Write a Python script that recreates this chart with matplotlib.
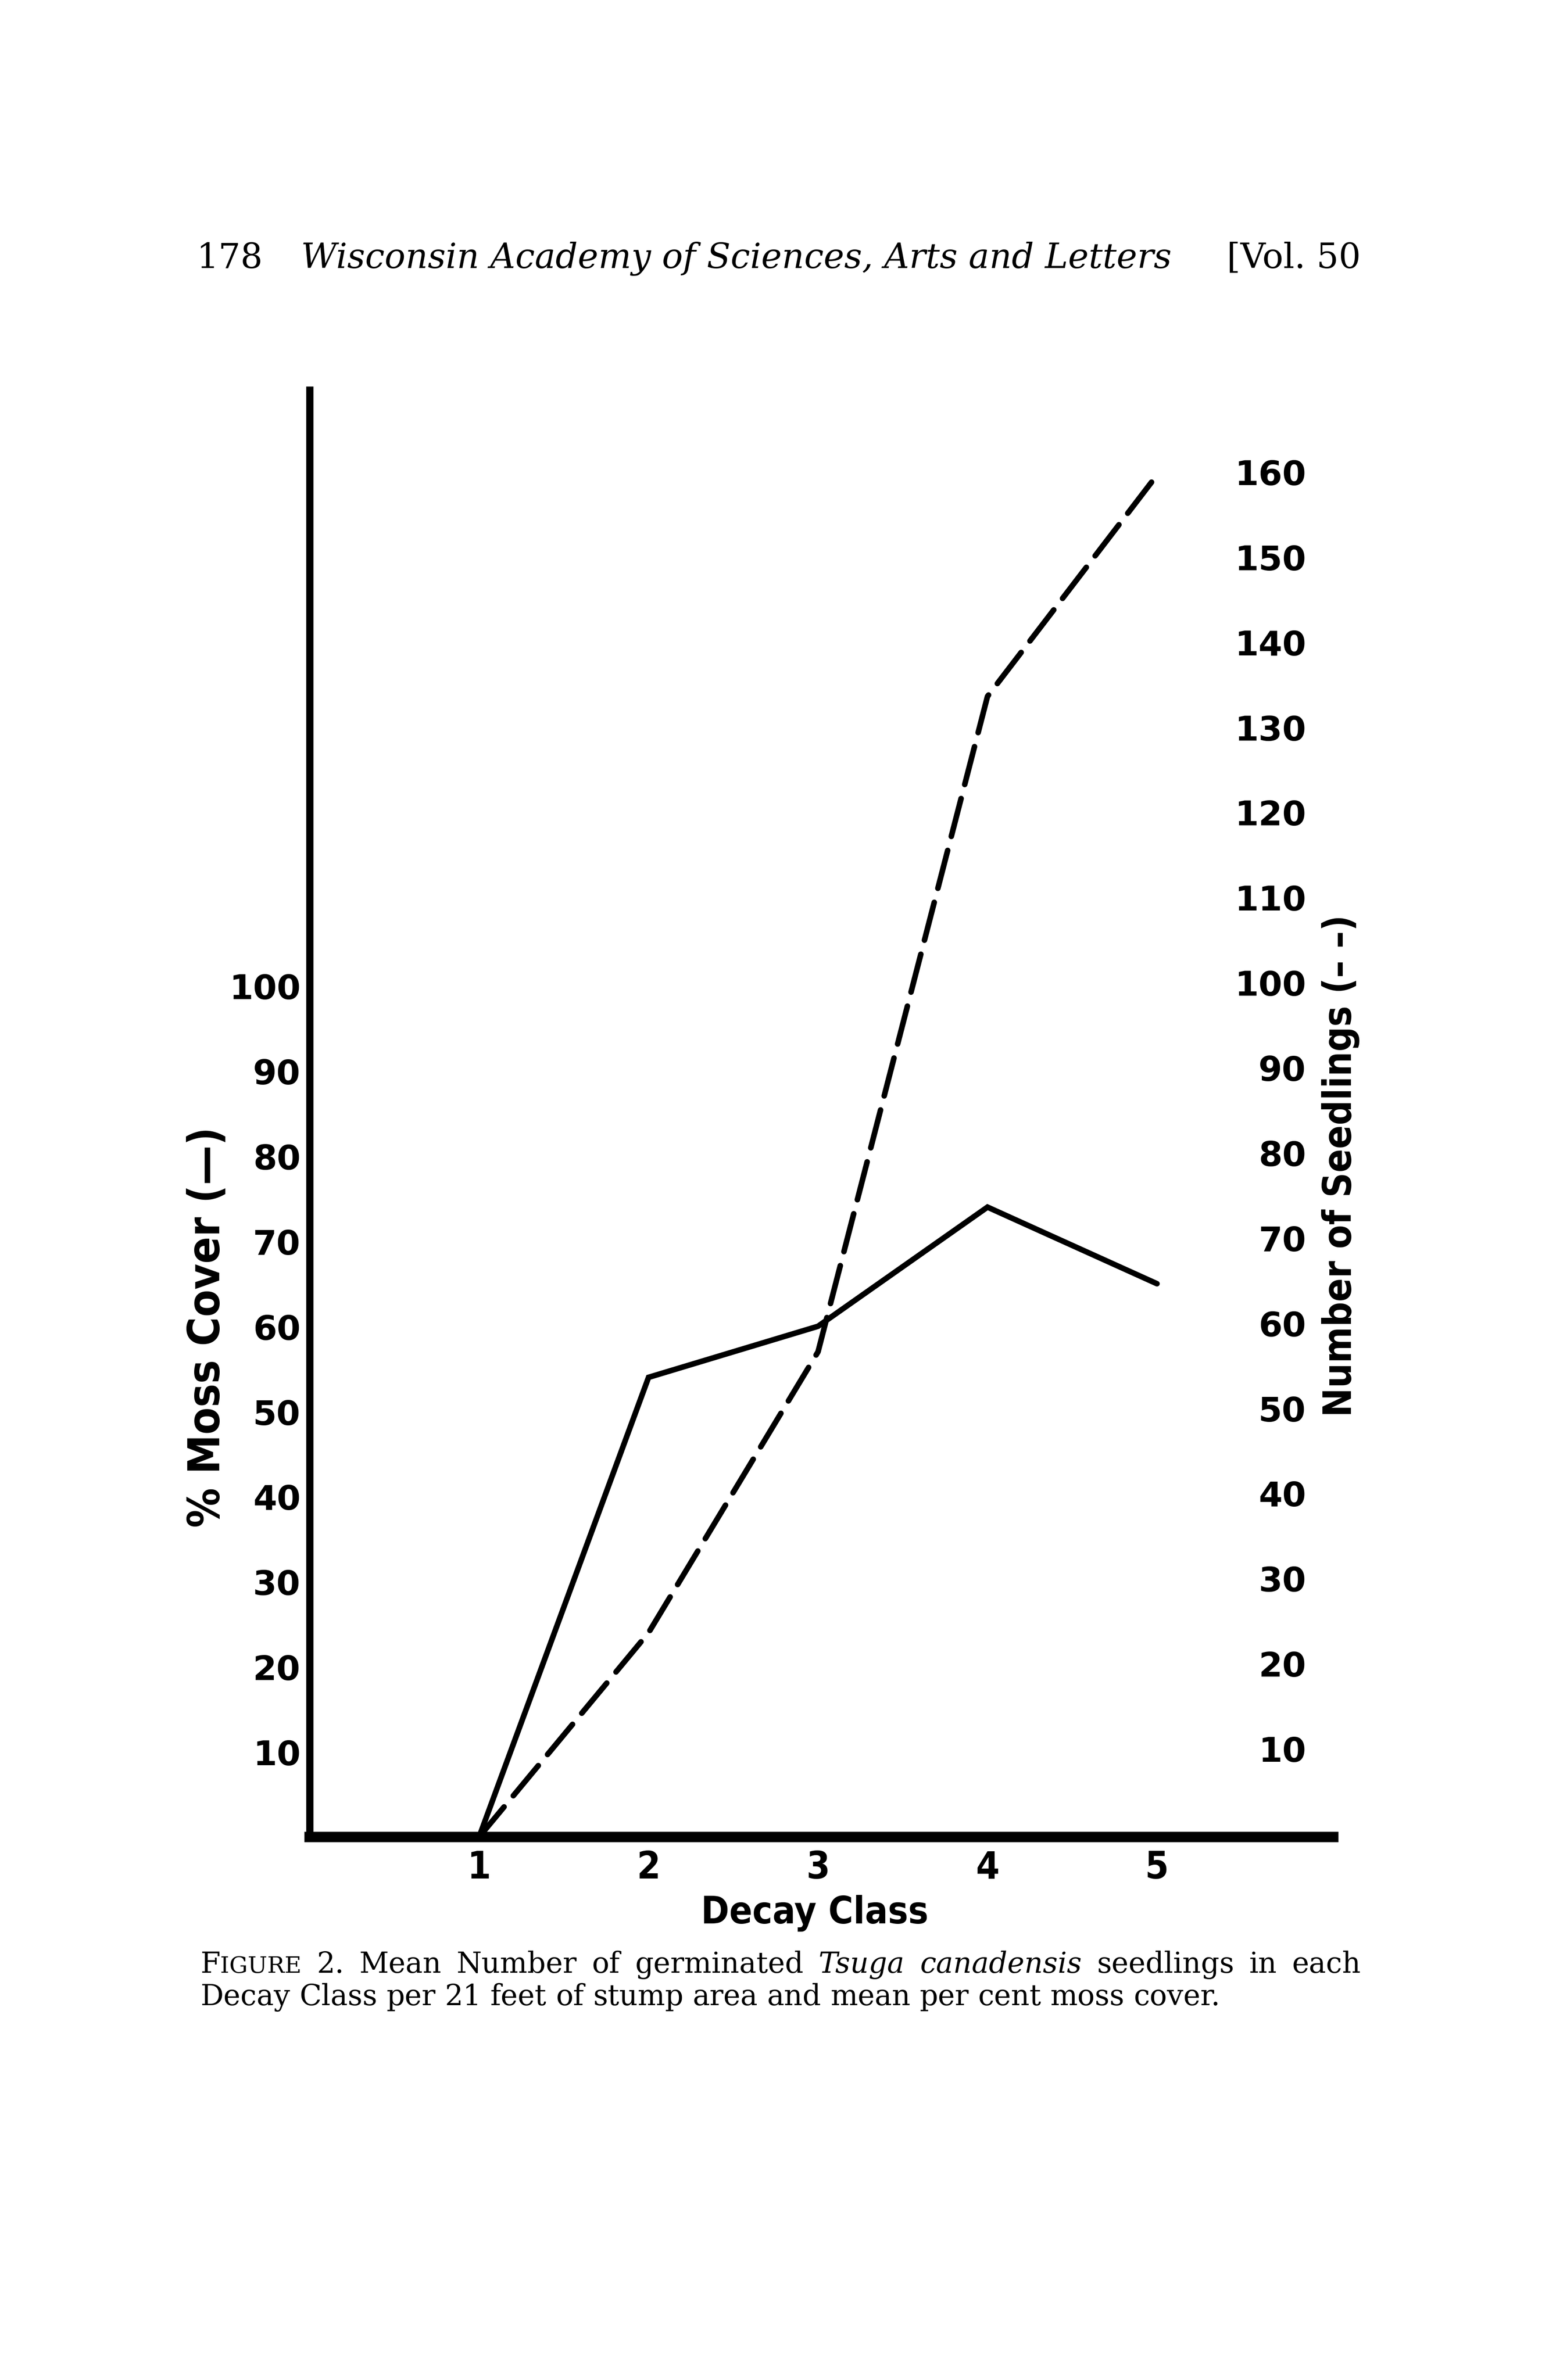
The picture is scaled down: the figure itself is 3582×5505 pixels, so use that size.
import matplotlib
matplotlib.use("Agg")
import matplotlib.pyplot as plt

W, H, DPI = 3582, 5506, 300

# data
decay_class = [1, 2, 3, 4, 5]
moss_cover = [0, 54, 60, 74, 65]        # % moss cover, solid line
seedlings = [0, 24, 57, 134, 160]       # number of seedlings, dashed line
moss_ticks = [10, 20, 30, 40, 50, 60, 70, 80, 90, 100]
seedling_ticks = [10, 20, 30, 40, 50, 60, 70, 80, 90, 100,
                  110, 120, 130, 140, 150, 160]

SERIF = ["DejaVu Serif"]
SANS = "DejaVu Sans"

fig = plt.figure(figsize=(W / DPI, H / DPI), dpi=DPI)
ax = fig.add_axes([716 / W, 1 - 4250 / H, 2367 / W, 3347 / H])
ax.set_xlim(0, 6.04)
ax.set_ylim(0, 170)

ax.plot(decay_class, moss_cover, color="black", lw=3.1,
        solid_capstyle="round", solid_joinstyle="miter")
ax.plot(decay_class, seedlings, color="black", lw=3.1,
        dashes=(7, 2.6), dash_capstyle="round")

for side in ["top", "right"]:
    ax.spines[side].set_visible(False)
ax.spines["left"].set_linewidth(4)
ax.spines["bottom"].set_linewidth(5.8)

# left axis: moss cover
ax.set_yticks(moss_ticks, [str(v) for v in moss_ticks])
ax.tick_params(axis="y", length=0, pad=5, labelsize=19)
for lab in ax.get_yticklabels():
    lab.set_fontweight("bold")
    lab.set_family(SANS)

# right labels: seedlings (sit inside the plot area)
for v in seedling_ticks:
    ax.text(5.88, v, str(v), ha="right", va="center", fontsize=19,
            fontweight="bold", family=SANS)

ax.set_xticks(decay_class, [str(v) for v in decay_class])
ax.tick_params(axis="x", length=0, pad=7, labelsize=21)
for lab in ax.get_xticklabels():
    lab.set_fontweight("bold")
    lab.set_family(SANS)
    lab.set_fontstretch("condensed")

ax.text(2.98, -133 / 19.69, "Decay Class", ha="center", va="top",
        fontsize=21, fontweight="bold", family=SANS, fontstretch="condensed")

fig.text(480 / W, 1 - 3070 / H, "% Moss Cover (\u2014)", rotation=90,
         ha="center", va="center", fontsize=24.5, fontweight="bold",
         family=SANS, fontstretch="condensed")
fig.text(3100 / W, 1 - 2696 / H, "Number of Seedlings (\u2013 \u2013)",
         rotation=90, ha="center", va="center", fontsize=21.5,
         fontweight="bold", family=SANS, fontstretch="condensed")

renderer = fig.canvas.get_renderer()


def text_width(txt, props):
    t = fig.text(0, 0, txt, **props)
    w = t.get_window_extent(renderer).width
    t.remove()
    return w


def place_words(words, y, x0, x1=None):
    # words: list of words, each word a list of (text, props)
    built = []
    for word in words:
        parts = []
        for txt, props in word:
            t = fig.text(0, y, txt, ha="left", va="baseline", **props)
            parts.append((t, t.get_window_extent(renderer).width))
        built.append(parts)
    widths = [sum(w for _, w in parts) for parts in built]
    if x1 is not None and len(built) > 1:
        gap = (x1 - x0 - sum(widths)) / (len(built) - 1)
    else:
        p = words[0][0][1]
        gap = text_width("n n", p) - text_width("nn", p)
    x = x0
    for parts in built:
        for t, w in parts:
            t.set_x(x / W)
            x += w
        x += gap


# running head
head_y = 1 - 620 / H
fig.text(454 / W, head_y, "178", ha="left", va="baseline", fontsize=19.3,
         family=SERIF)
fig.text(696 / W, head_y, "Wisconsin Academy of Sciences, Arts and Letters",
         ha="left", va="baseline", fontsize=19.3, family=SERIF, style="italic")
fig.text(3147 / W, head_y, "[Vol. 50", ha="right", va="baseline",
         fontsize=19.3, family=SERIF)

# caption
cap = dict(fontsize=16, family=SERIF)
capi = dict(fontsize=16, family=SERIF, style="italic")
small = dict(fontsize=12.8, family=SERIF)
line1 = [[("F", cap), ("IGURE", small)], [("2.", cap)], [("Mean", cap)],
         [("Number", cap)], [("of", cap)], [("germinated", cap)],
         [("Tsuga", capi)], [("canadensis", capi)], [("seedlings", cap)],
         [("in", cap)], [("each", cap)]]
place_words(line1, 1 - 4563 / H, 463, 3147)
line2 = [[(w, cap)] for w in
         "Decay Class per 21 feet of stump area and mean per cent moss cover.".split()]
place_words(line2, 1 - 4638 / H, 463)

fig.savefig("out.png", dpi=DPI)
